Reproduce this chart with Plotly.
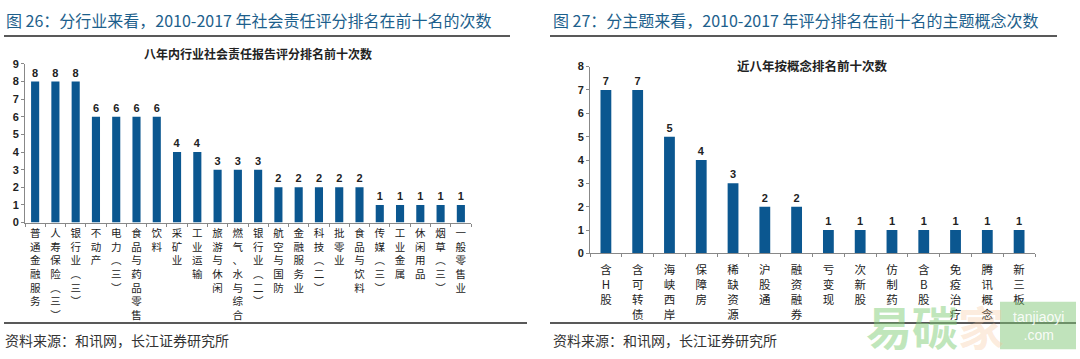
import plotly.graph_objects as go

# ---------------- data ----------------
industry_names = ["普通金融服务", "人寿保险（三）", "银行业（三）", "不动产", "电力（三）",
                  "食品与药品零售", "饮料", "采矿业", "工业运输", "旅游与休闲",
                  "燃气、水与综合", "银行业（二）", "航空与国防", "金融服务业", "科技（二）",
                  "批零业", "食品与饮料", "传媒（三）", "工业金属", "休闲用品",
                  "烟草（三）", "一般零售业"]
industry_counts = [8, 8, 8, 6, 6, 6, 6, 4, 4, 3, 3, 3, 2, 2, 2, 2, 2, 1, 1, 1, 1, 1]

concept_names = ["含H股", "含可转债", "海峡西岸", "保障房", "稀缺资源", "沪股通", "融资融券",
                 "亏变现", "次新股", "仿制药", "含B股", "免疫治疗", "腾讯概念", "新三板"]
concept_counts = [7, 7, 5, 4, 3, 2, 2, 1, 1, 1, 1, 1, 1, 1]

left_yticks = list(range(0, 10))
right_yticks = list(range(0, 9))

# ---------------- helpers ----------------
W, H = 1080, 359
BAR = "#0b5790"
TXT = "#222222"
TITLE_BLUE = "#1d5f8c"
CJK = "Noto Sans CJK SC"
NUMF = "Liberation Sans"


def px(x):
    return x / W


def py(y):
    return 1 - y / H


def vertical(s):
    s = s.replace("（", "︵").replace("）", "︶")
    return "<br>".join(list(s))


fig = go.Figure()

fig.add_trace(go.Bar(
    x=industry_names, y=industry_counts, xaxis="x", yaxis="y",
    marker=dict(color=BAR, line=dict(width=0)), width=0.4,
    text=[str(v) for v in industry_counts], textposition="outside",
    textfont=dict(family=NUMF, size=11, color=TXT, weight="bold"),
    cliponaxis=False, showlegend=False, hoverinfo="x+y"))

fig.add_trace(go.Bar(
    x=concept_names, y=concept_counts, xaxis="x2", yaxis="y2",
    marker=dict(color=BAR, line=dict(width=0)), width=0.34,
    text=[str(v) for v in concept_counts], textposition="outside",
    textfont=dict(family=NUMF, size=11, color=TXT, weight="bold"),
    cliponaxis=False, showlegend=False, hoverinfo="x+y"))

axis_common = dict(showgrid=False, zeroline=False, showline=True,
                   linecolor="#888888", linewidth=1, ticks="outside",
                   tickcolor="#888888", ticklen=3, fixedrange=True)

fig.update_layout(
    width=W, height=H,
    margin=dict(l=0, r=0, t=0, b=0),
    paper_bgcolor="white", plot_bgcolor="white",
    xaxis=dict(domain=[px(25), px(471)], type="category",
               tickmode="array", tickvals=industry_names,
               ticktext=[vertical(s) for s in industry_names],
               tickangle=0, tickson="boundaries", ticklabelstandoff=1,
               tickfont=dict(family=CJK, size=10.5, color=TXT),
               anchor="y", **axis_common),
    yaxis=dict(domain=[py(224), py(60)], range=[0, 9],
               tickmode="array", tickvals=left_yticks,
               tickfont=dict(family=NUMF, size=11, color=TXT, weight="bold"),
               anchor="x", **axis_common),
    xaxis2=dict(domain=[px(590), px(1035)], type="category",
                tickmode="array", tickvals=concept_names,
                ticktext=[vertical(s) for s in concept_names],
                tickangle=0, tickson="boundaries", ticklabelstandoff=6,
                tickfont=dict(family=CJK, size=11.5, color=TXT),
                anchor="y2", **axis_common),
    yaxis2=dict(domain=[py(256), py(62.7)], range=[0, 8],
                tickmode="array", tickvals=right_yticks,
                tickfont=dict(family=NUMF, size=11, color=TXT, weight="bold"),
                anchor="x2", **axis_common),
)

shapes = []
# top rules
shapes.append(dict(type="line", xref="paper", yref="paper", x0=px(4), x1=px(510),
                   y0=py(31), y1=py(31), line=dict(color="#222222", width=1.5)))
shapes.append(dict(type="line", xref="paper", yref="paper", x0=px(550), x1=px(1057),
                   y0=py(31), y1=py(31), line=dict(color="#222222", width=1.5)))
# bottom rules
shapes.append(dict(type="line", xref="paper", yref="paper", x0=px(4), x1=px(527),
                   y0=py(328), y1=py(328), line=dict(color="#222222", width=1.5)))
shapes.append(dict(type="line", xref="paper", yref="paper", x0=px(550), x1=px(1076),
                   y0=py(328), y1=py(328), line=dict(color="#222222", width=1.5)))
# watermark box
shapes.append(dict(type="rect", xref="paper", yref="paper", x0=px(1000), x1=px(1076),
                   y0=py(355), y1=py(306), fillcolor="rgba(130,200,120,0.5)",
                   line=dict(width=0), layer="above"))
fig.update_layout(shapes=shapes)

annotations = [
    dict(text="图 26：分行业来看，2010-2017 年社会责任评分排名在前十名的次数",
         x=px(4), y=py(15), xanchor="left", yanchor="middle",
         font=dict(family=CJK, size=16, color=TITLE_BLUE)),
    dict(text="图 27：分主题来看，2010-2017 年评分排名在前十名的主题概念次数",
         x=px(551), y=py(15), xanchor="left", yanchor="middle",
         font=dict(family=CJK, size=16, color=TITLE_BLUE)),
    dict(text="<b>八年内行业社会责任报告评分排名前十次数</b>",
         x=px(258), y=py(49), xanchor="center", yanchor="middle",
         font=dict(family=CJK, size=12, color=TXT)),
    dict(text="<b>近八年按概念排名前十次数</b>",
         x=px(812), y=py(62), xanchor="center", yanchor="middle",
         font=dict(family=CJK, size=12.5, color=TXT)),
    dict(text="资料来源：和讯网，长江证券研究所",
         x=px(3), y=py(346), xanchor="left", yanchor="middle",
         font=dict(family=CJK, size=14, color="#333333")),
    dict(text="资料来源：和讯网，长江证券研究所",
         x=px(551), y=py(346), xanchor="left", yanchor="middle",
         font=dict(family=CJK, size=14, color="#333333")),
    # watermark
    dict(text="<b>易碳<span style='color:rgba(245,190,140,0.6)'>家</span></b>",
         x=px(935), y=py(330), xanchor="center", yanchor="middle",
         font=dict(family=CJK, size=46, color="rgba(130,205,120,0.5)")),
    dict(text="tanjiaoyi<br>.com", x=px(1038), y=py(331), xanchor="center", yanchor="middle",
         font=dict(family="Liberation Sans", size=14, color="rgba(255,255,255,0.9)")),
]
for a in annotations:
    a.update(xref="paper", yref="paper", showarrow=False)
fig.update_layout(annotations=annotations)

fig.write_html("out.html", config={"displayModeBar": False},
               post_script="document.body.style.margin='0';")
